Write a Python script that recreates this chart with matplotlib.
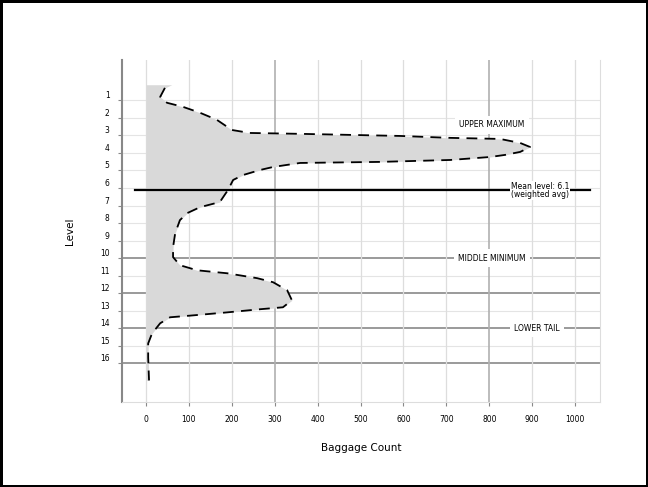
import matplotlib
matplotlib.use("Agg")
from matplotlib import pyplot as plt

# level (y) vs count (x)
levels = [0.11, 0.29, 0.8, 1.14, 1.37, 1.71, 2.11, 2.69, 2.86, 2.91, 3.03, 3.14,
          3.2, 3.43, 3.66, 3.94, 4.11, 4.23, 4.4, 4.51, 4.57, 4.8, 4.97, 5.26,
          5.54, 6.11, 6.8, 7.09, 7.43, 7.83, 8.57, 9.37, 9.94, 10.4, 10.69,
          10.86, 11.14, 11.37, 11.83, 12.4, 12.8, 12.91, 13.09, 13.26, 13.37,
          13.71, 14.29, 14.86, 15.66, 16.97]
counts = [60, 44, 33, 49, 86, 126, 165, 200, 242, 359, 592, 709,
          825, 872, 895, 872, 837, 802, 709, 545, 359, 296, 266, 226,
          203, 191, 172, 126, 96, 79, 68, 63, 63, 79, 119,
          189, 259, 296, 329, 340, 319, 266, 189, 110, 56,
          33, 14, 5, 5, 7]

level_ticks = list(range(1, 17))
count_ticks = list(range(0, 1001, 100))
dark_levels = [10, 12, 14, 16]
dark_counts = [300, 800]

mean_level = 6.1
mean_text = "Mean level: 6.1\n(weighted avg)"
notes = [(806, 2.4, "UPPER MAXIMUM"),
         (806, 10, "MIDDLE MINIMUM"),
         (911, 14, "LOWER TAIL")]

fig = plt.figure(figsize=(6.48, 4.87), dpi=100)
fig.patch.set_edgecolor("black")
fig.patch.set_linewidth(2.5)
ax = fig.add_axes([122 / 648, 1 - 402 / 487, 478 / 648, 342 / 487])

# grid
for lv in level_ticks:
    dark = lv in dark_levels
    ax.axhline(lv, color="#9a9a9a" if dark else "#e4e4e4",
               lw=1.4 if dark else 0.8, zorder=0)
for c in count_ticks:
    dark = c in dark_counts
    ax.axvline(c, color="#b0b0b0" if dark else "#dddddd",
               lw=1.2 if dark else 0.9, zorder=0)

ax.fill_betweenx(levels, 0, counts, color="#d9d9d9", lw=0, zorder=1)
ax.plot(counts[1:], levels[1:], color="black", lw=1.3, ls=(0, (6, 4)), zorder=2)

ax.plot([-26, 1035], [mean_level, mean_level], color="black", lw=1.6, zorder=3)
ax.text(918, mean_level + 0.05, mean_text, fontsize=5.5, ha="center", va="center",
        linespacing=0.9, zorder=4,
        bbox=dict(facecolor="white", edgecolor="none", pad=0.5))
for x, y, s in notes:
    ax.text(x, y, s, fontsize=5.5, ha="center", va="center", zorder=4,
            bbox=dict(facecolor="white", edgecolor="none", pad=3))

ax.set_xlim(-56, 1058)
ax.set_ylim(18.2, -1.3)
ax.set_xticks(count_ticks)
ax.set_yticks(level_ticks)
ax.set_yticklabels([str(v) for v in level_ticks], va="bottom")
ax.tick_params(labelsize=5.5, length=3, color="#888888", pad=6)
for side in ["top", "right", "bottom"]:
    ax.spines[side].set_color("#dddddd")
ax.spines["top"].set_visible(False)
ax.spines["left"].set_color("#888888")
ax.spines["left"].set_linewidth(1.5)

ax.set_xlabel("Baggage Count", fontsize=7.5, labelpad=14)
ax.set_ylabel("Level", fontsize=7.5, labelpad=18)

plt.savefig("out.png", dpi=100)
